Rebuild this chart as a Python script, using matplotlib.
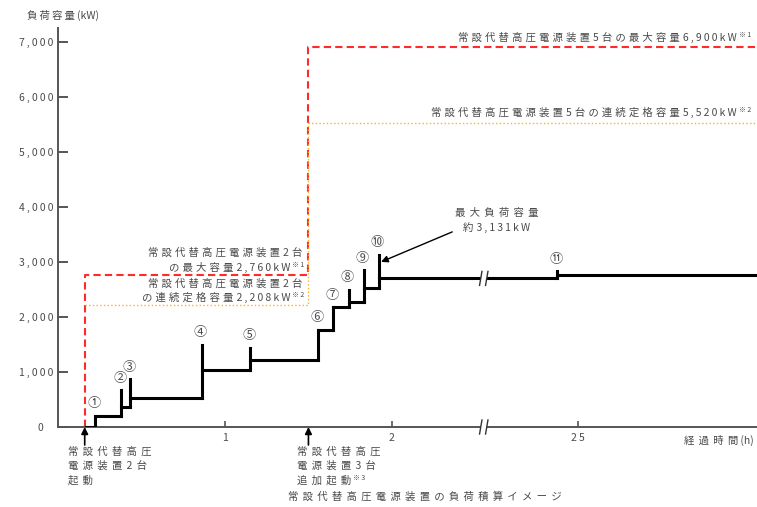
import numpy as np
import matplotlib
matplotlib.use("Agg")
import matplotlib.pyplot as plt
import matplotlib.transforms as mtransforms
from matplotlib.patches import Rectangle

plt.rcParams["font.family"] = ["Noto Sans CJK JP", "DejaVu Sans"]

# load profile (time in hours, load in kW)
start_time = 0.17
event_times = [0.22, 0.38, 0.43, 0.86, 1.15, 1.56, 1.65, 1.74, 1.83, 1.92, 20]
event_labels = ["①", "②", "③", "④", "⑤", "⑥", "⑦", "⑧", "⑨", "⑩", "⑪"]
peak_load = [200, 670, 870, 1490, 1440, 1770, 2180, 2490, 2850, 3131, 2830]
settled_load = [200, 360, 530, 1040, 1220, 1770, 2180, 2270, 2530, 2700, 2760]

# generator capacity
first_start = 0.16    # 2 units start
second_start = 1.5    # 3 more units start
cap2_max = 2760
cap2_rated = 2208
cap5_max = 6900
cap5_rated = 5520

yticks = [0, 1000, 2000, 3000, 4000, 5000, 6000, 7000]
xticks = [1, 2, 25]
end_time = 67.7
ymax = 7250

# broken time axis
BREAK = 2.55
COMPRESS = 0.02512


def forward(t):
    t = np.asarray(t, dtype=float)
    return np.where(t <= BREAK, t, BREAK + (t - BREAK) * COMPRESS)


def inverse(d):
    d = np.asarray(d, dtype=float)
    return np.where(d <= BREAK, d, BREAK + (d - BREAK) / COMPRESS)


def sp(s, n=2):
    # letter-spaced text like the original document
    return ("\u2009" * n).join(s)


def jp(*parts):
    # CJK parts spaced, latin/digit parts narrower
    gap = "\u2009\u200a"
    out = []
    for p in parts:
        out.append(sp(p, 1) if p.isascii() else gap.join(p))
    return gap.join(out)


W, H = 757, 507
TXT = "#4a4a4a"
AX = "#555555"
FS = 7.5

fig = plt.figure(figsize=(W / 100, H / 100), dpi=100)
ax = fig.add_axes([58 / W, 80 / H, 699 / W, 399 / H])
ax.set_xscale("function", functions=(forward, inverse))
ax.set_xlim(0, end_time)
ax.set_ylim(0, ymax)

for s in ["top", "right"]:
    ax.spines[s].set_visible(False)
for s in ["left", "bottom"]:
    ax.spines[s].set_color(AX)
    ax.spines[s].set_linewidth(1.4)

ax.set_yticks(yticks)
ax.set_yticklabels([sp(f"{v:,}", 1) if v else "0    " for v in yticks])
ax.set_xticks(xticks)
ax.set_xticklabels([sp(str(v), 1) for v in xticks])
ax.tick_params(axis="y", direction="in", length=7, width=1.4, color=AX,
               pad=3.5, labelsize=FS, labelcolor=TXT)
ax.tick_params(axis="x", direction="in", length=4, width=1.2, color=AX,
               pad=4, labelsize=FS, labelcolor=TXT)
ax.minorticks_off()

# capacity lines
ax.plot([first_start, first_start, second_start, second_start, end_time],
        [0, cap2_max, cap2_max, cap5_max, cap5_max],
        color="#ff2a2a", lw=1.5, ls=(0, (3.5, 2)), clip_on=False, zorder=2)
ax.plot([first_start, second_start, second_start, end_time],
        [cap2_rated, cap2_rated, cap5_rated, cap5_rated],
        color="#ffb020", lw=1.0, ls=":", clip_on=False, zorder=2)

# load steps
lvl_times = [start_time] + event_times
levels = [0] + settled_load
ax.hlines(levels, lvl_times, lvl_times[1:] + [end_time], color="black",
          lw=2.2, capstyle="projecting", zorder=4)
prev = [0] + settled_load[:-1]
ax.vlines(event_times, prev, peak_load, color="black", lw=2.2,
          capstyle="projecting", zorder=4)

for t, p, lab in zip(event_times, peak_load, event_labels):
    ax.annotate(lab, xy=(t, p), xytext=(-1, 12), textcoords="offset pixels",
                ha="center", va="center", fontsize=9.5, color=TXT)


def break_mark(t, y):
    tr = fig.dpi_scale_trans + mtransforms.ScaledTranslation(t, y, ax.transData)
    ax.add_patch(Rectangle((-0.03, -0.08), 0.06, 0.16, transform=tr,
                           facecolor="white", edgecolor="none",
                           clip_on=False, zorder=6))
    for dx in (-0.03, 0.03):
        ax.plot([dx - 0.012, dx, dx + 0.012], [-0.07, 0.0, 0.07],
                transform=tr, color="#333333", lw=1.0, clip_on=False,
                zorder=7)


break_mark(BREAK, 0)
break_mark(BREAK, settled_load[-2])


def sup(artist, s):
    # small note mark after a text
    ax.annotate(s, xy=(1, 1), xycoords=artist, xytext=(2, 1),
                textcoords="offset pixels", ha="left", va="top",
                fontsize=5, color=TXT, annotation_clip=False)


# capacity labels
bt = mtransforms.blended_transform_factory(ax.transAxes, ax.transData)
t1 = ax.annotate(jp("常設代替高圧電源装置", "5", "台の最大容量", "6,900kW"),
                 xy=(1, cap5_max), xycoords=bt, xytext=(-20, 10),
                 textcoords="offset pixels", ha="right", va="center",
                 fontsize=FS, color=TXT)
sup(t1, sp("※1", 1))
t2 = ax.annotate(jp("常設代替高圧電源装置", "5", "台の連続定格容量", "5,520kW"),
                 xy=(1, cap5_rated), xycoords=bt, xytext=(-20, 11),
                 textcoords="offset pixels", ha="right", va="center",
                 fontsize=FS, color=TXT)
sup(t2, sp("※2", 1))

two_lines = [
    (cap2_max, jp("常設代替高圧電源装置", "2", "台"),
     jp("の最大容量", "2,760kW"), sp("※1", 1)),
    (cap2_rated, jp("常設代替高圧電源装置", "2", "台"),
     jp("の連続定格容量", "2,208kW"), sp("※2", 1)),
]
for y, l1, l2, note in two_lines:
    ax.annotate(l1, xy=(second_start, y), xytext=(-6, 22),
                textcoords="offset pixels", ha="right", va="center",
                fontsize=FS, color=TXT)
    a = ax.annotate(l2, xy=(second_start, y), xytext=(-18, 8),
                    textcoords="offset pixels", ha="right", va="center",
                    fontsize=FS, color=TXT)
    sup(a, note)

# max load callout
ax.annotate("", xy=(event_times[9] + 0.015, 3000), xytext=(0.564, 0.489),
            textcoords="axes fraction",
            arrowprops=dict(arrowstyle="-|>", color="black", lw=1.0,
                            mutation_scale=10, shrinkA=0, shrinkB=0))
ax.text(0.628, (427 - 213) / 399, sp("最大負荷容量"), transform=ax.transAxes,
        ha="center", va="center", fontsize=FS, color=TXT)
ax.text(0.628, (427 - 228) / 399, jp("約", "3,131kW"), transform=ax.transAxes,
        ha="center", va="center", fontsize=FS, color=TXT)

# start arrows below the axis
for t in (first_start, second_start):
    ax.annotate("", xy=(t, 0), xytext=(0, -18), textcoords="offset pixels",
                annotation_clip=False,
                arrowprops=dict(arrowstyle="-|>", color="black", lw=1.2,
                                mutation_scale=10, shrinkA=0, shrinkB=0))


def fx(px):
    return px / W


def fy(py):
    return 1 - py / H


kw = dict(fontsize=FS, color=TXT, va="center")
for i, line in enumerate([sp("常設代替高圧"), sp("電源装置2台"), sp("起動")]):
    fig.text(fx(68), fy(452 + 14 * i), line, ha="left", **kw)
last = None
for i, line in enumerate([sp("常設代替高圧"), sp("電源装置3台"), sp("追加起動")]):
    last = fig.text(fx(297), fy(452 + 14 * i), line, ha="left", **kw)
sup(last, sp("※3", 1))

fig.text(fx(27), fy(15), sp("負荷容量", 1) + "\u2009(kW)", ha="left", **kw)
fig.text(fx(684), fy(440), sp("経過時間") + "\u2009(h)", ha="left", **kw)
fig.text(fx(425), fy(497), sp("常設代替高圧電源装置の負荷積算イメージ"),
         ha="center", **kw)

fig.savefig("out.png", dpi=100)
